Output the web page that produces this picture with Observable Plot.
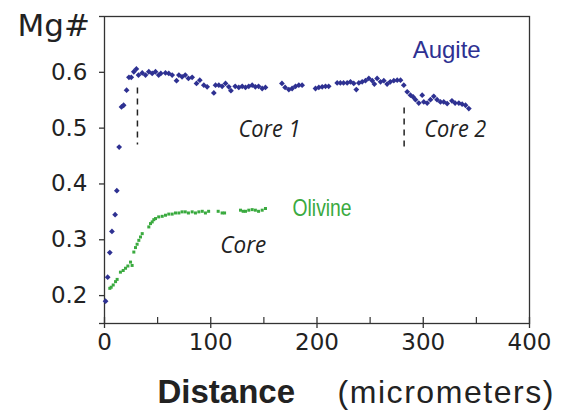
<!DOCTYPE html>
<html><head><meta charset="utf-8">
<script src="https://cdn.jsdelivr.net/npm/d3@7"></script>
<script src="https://cdn.jsdelivr.net/npm/@observablehq/plot@0.6"></script>
<style>body{margin:0;background:#fff}#chart svg{display:block}</style>
</head><body><div id="chart"></div>
<script>
const augiteDistance = [1, 3, 5, 7, 10, 11.6, 13.8, 16, 18, 20.8, 23, 25.2, 27.6, 30, 32, 35.5, 38.6, 41.7, 44.9, 48, 51, 53, 57.4, 60.5, 63.7, 67.8, 70, 73, 76, 79, 82.5, 86.6, 89.7, 93.5, 96.6, 102.9, 104.5, 107.6, 110.7, 113.9, 117, 119, 123, 126.4, 129.6, 132.7, 135.8, 139, 142, 145, 148.4, 151.5, 167, 170, 173.5, 176.6, 179.8, 182.9, 186, 198.6, 201.7, 204.9, 208, 211, 219, 222, 225, 228.4, 231.5, 234.6, 237, 239.4, 242.5, 245.6, 248.8, 252, 254, 256.6, 259.8, 262.9, 266, 269, 272.3, 275.5, 278.6, 281.7, 284.9, 288, 290.5, 292.7, 295.8, 299, 300.5, 303.7, 306.8, 309.9, 313, 316.2, 319.3, 322.5, 327, 330, 333.5, 336.6, 339.8, 342.9];
const augiteMg = [0.19, 0.233, 0.277, 0.315, 0.345, 0.388, 0.466, 0.538, 0.541, 0.568, 0.591, 0.591, 0.601, 0.606, 0.595, 0.599, 0.595, 0.601, 0.598, 0.601, 0.595, 0.598, 0.599, 0.598, 0.595, 0.585, 0.595, 0.592, 0.595, 0.589, 0.591, 0.58, 0.586, 0.577, 0.574, 0.563, 0.577, 0.577, 0.575, 0.58, 0.574, 0.567, 0.575, 0.573, 0.575, 0.573, 0.575, 0.577, 0.574, 0.575, 0.571, 0.573, 0.58, 0.573, 0.569, 0.571, 0.575, 0.577, 0.577, 0.571, 0.573, 0.574, 0.575, 0.575, 0.581, 0.581, 0.581, 0.581, 0.583, 0.58, 0.569, 0.581, 0.583, 0.585, 0.589, 0.585, 0.579, 0.589, 0.583, 0.585, 0.579, 0.583, 0.585, 0.586, 0.586, 0.577, 0.565, 0.559, 0.556, 0.551, 0.545, 0.559, 0.547, 0.545, 0.551, 0.557, 0.551, 0.547, 0.547, 0.544, 0.549, 0.545, 0.545, 0.543, 0.541, 0.535];
const olivineDistance = [5, 6.3, 8.2, 10.4, 11.9, 15, 17.6, 19.8, 22, 24.5, 26, 27.6, 29.2, 30.7, 32.3, 33.9, 35.5, 41.7, 43.3, 44.9, 46.4, 48, 51, 54.3, 57.4, 60.5, 63.7, 66.8, 70, 73, 76, 79, 82.5, 85.6, 88.8, 92, 95, 98, 107, 110.7, 113, 128, 130.5, 132.7, 135.8, 139, 142, 145, 148.4, 151.5];
const olivineMg = [0.213, 0.215, 0.219, 0.225, 0.229, 0.242, 0.245, 0.249, 0.253, 0.26, 0.254, 0.278, 0.286, 0.292, 0.299, 0.305, 0.311, 0.323, 0.329, 0.332, 0.336, 0.338, 0.341, 0.342, 0.344, 0.346, 0.346, 0.348, 0.348, 0.35, 0.35, 0.348, 0.35, 0.348, 0.35, 0.351, 0.348, 0.351, 0.351, 0.348, 0.348, 0.353, 0.351, 0.351, 0.353, 0.354, 0.353, 0.351, 0.353, 0.356];
const xTicks = [0, 100, 200, 300, 400];
const xMinorTicks = [50, 150, 250, 350];
const yTicks = [0.15, 0.2, 0.3, 0.4, 0.5, 0.6, 0.7];
const yTickLabels = ["", "0.2", "0.3", "0.4", "0.5", "0.6", ""];
const boundaryX = [31, 282];
const boundaryTop = [0.572, 0.536];
const boundaryBottom = [0.47, 0.461];
const mineralLabels = ["Augite", "Olivine"];
const mineralLabelX = [290, 177];
const mineralLabelY = [0.625, 0.342];
const zoneLabels = ["Core 1", "Core 2", "Core"];
const zoneLabelX = [126, 301, 109];
const zoneLabelY = [0.484, 0.484, 0.276];

const navy = "#2e3192", green = "#3aaa3f";
const augite = augiteDistance.map((d, i) => ({d, v: augiteMg[i]}));
const olivine = olivineDistance.map((d, i) => ({d, v: olivineMg[i]}));
const boundaries = boundaryX.map((x, i) => ({x, y1: boundaryTop[i], y2: boundaryBottom[i]}));
const minerals = mineralLabels.map((t, i) => ({t, x: mineralLabelX[i], y: mineralLabelY[i]}));
const zones = zoneLabels.map((t, i) => ({t, x: zoneLabelX[i], y: zoneLabelY[i]}));
const verd = "DejaVu Sans, Verdana, sans-serif";

const chart = Plot.plot({
  width: 568, height: 411,
  marginLeft: 104, marginRight: 39, marginTop: 16, marginBottom: 88,
  x: {domain: [0, 400]},
  y: {domain: [0.15, 0.7]},
  style: {background: "#fff", color: "#222"},
  marks: [
    Plot.frame({stroke: "#333", strokeWidth: 1.3}),
    Plot.axisX({ticks: xTicks, tickSize: 11, dy: -6, tickPadding: 5, fontSize: 23, fontFamily: verd, label: null, stroke: "#333", fill: "#222", strokeWidth: 1.3}),
    Plot.axisX({ticks: xMinorTicks, tickSize: 6, dy: -6, tickFormat: () => "", label: null, stroke: "#333", strokeWidth: 1.2}),
    Plot.axisY({ticks: yTicks, tickSize: 5, tickPadding: 12, tickFormat: (d) => yTickLabels[yTicks.indexOf(d)], fontSize: 23, fontFamily: verd, label: null, stroke: "#333", fill: "#222", strokeWidth: 1.3}),
    Plot.ruleX(boundaries, {x: "x", y1: "y1", y2: "y2", stroke: "#222", strokeWidth: 1.5, strokeDasharray: "6,5"}),
    Plot.dot(olivine, {x: "d", y: "v", symbol: "square", r: 1.7, fill: green, stroke: "none"}),
    Plot.dot(augite, {x: "d", y: "v", symbol: "diamond2", r: 2.6, fill: navy, stroke: "none"}),
    Plot.text(minerals, {x: "x", y: "y", text: "t", textAnchor: "start", lineAnchor: "bottom", fontSize: 24, fontFamily: "Liberation Sans, Arial, sans-serif", fill: (d) => d.t === "Augite" ? navy : green}),
    Plot.text(zones, {x: "x", y: "y", text: "t", textAnchor: "start", lineAnchor: "bottom", fontSize: 23, fontStyle: "italic", fontFamily: "Open Sans, sans-serif", fill: "#222"}),
    Plot.text(["Mg#"], {frameAnchor: "top-left", text: (d) => d, dx: -87, dy: 19, textAnchor: "start", lineAnchor: "bottom", fontSize: 31, fontFamily: verd, fill: "#222"}),
    Plot.text(["Distance"], {frameAnchor: "bottom-left", text: (d) => d, dx: 53, dy: 79, textAnchor: "start", lineAnchor: "bottom", fontSize: 33, fontWeight: "bold", fontFamily: "Liberation Sans, Arial, sans-serif", fill: "#222"}),
    Plot.text(["(micrometers)"], {frameAnchor: "bottom-left", text: (d) => d, dx: 233, dy: 79, textAnchor: "start", lineAnchor: "bottom", fontSize: 32, fontFamily: "Liberation Sans, Arial, sans-serif", fill: "#222"})
  ]
});
// narrow / spaced lettering as in the reference
d3.select(chart).selectAll("text").each(function () {
  const t = this.textContent;
  if (t === "Olivine") { this.setAttribute("textLength", 59); this.setAttribute("lengthAdjust", "spacingAndGlyphs"); }
  if (t === "(micrometers)") { this.setAttribute("textLength", 216); this.setAttribute("lengthAdjust", "spacing"); }
  if (t === "Core 1" || t === "Core 2") { this.setAttribute("textLength", 62); this.setAttribute("lengthAdjust", "spacingAndGlyphs"); }
  if (t === "Core") { this.setAttribute("textLength", 46); this.setAttribute("lengthAdjust", "spacingAndGlyphs"); }
});
document.getElementById("chart").appendChild(chart);
</script>
</body></html>
